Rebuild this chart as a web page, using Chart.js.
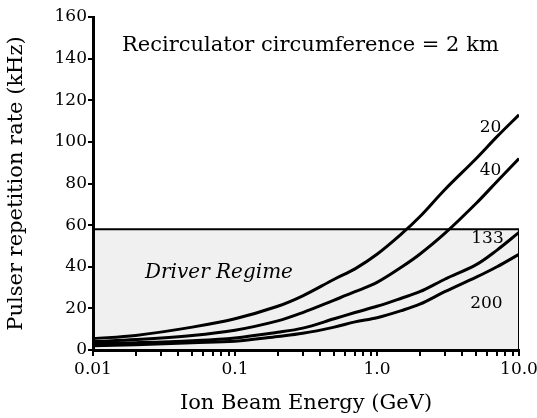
<!DOCTYPE html>
<html>
<head>
<meta charset="utf-8">
<script src="https://cdn.jsdelivr.net/npm/chart.js@4.4.1/dist/chart.umd.min.js"></script>
<style>
  html, body { margin: 0; padding: 0; background: #fff; }
  #wrap { width: 537px; height: 418px; }
</style>
</head>
<body>
<div id="wrap"><canvas id="c" width="537" height="418"></canvas></div>
<script>
const energia = [0.01, 0.02, 0.05, 0.1, 0.2, 0.3, 0.5, 0.7, 1, 1.5, 2, 3, 5, 7, 10];
// pulser repetition rate (kHz), one series per curve label
const curva20  = [5.5, 7, 11, 15, 21, 26, 34, 39, 46, 56, 64, 77, 92, 102.5, 113];
const curva40  = [4, 5, 7, 9.5, 14, 18, 24, 28, 32.5, 40, 46, 56, 70.5, 81, 92];
const curva133 = [3, 3.5, 4.5, 5.8, 8.5, 10.5, 15, 18, 21, 25, 28, 34, 41, 48, 56.5];
const curva200 = [2, 2.5, 3.5, 4.2, 6.5, 8, 11, 13.5, 15.5, 19, 22, 28, 35, 40, 46];
const rotulos = ['20', '40', '133', '200'];

// driver regime box
const regimeE = [0.01, 10];
const regimeTopo = 58;

// axis ticks
const xMaiores = [0.01, 0.1, 1, 10];
const xRotulos = ['0.01', '0.1', '1.0', '10.0'];
const yTicks = [0, 20, 40, 60, 80, 100, 120, 140, 160];

const serif = '"DejaVu Serif", "Liberation Serif", serif';

function pontos(ys) {
  return energia.map((e, i) => ({ x: e, y: ys[i] }));
}

const caixa = [
  { x: regimeE[0], y: regimeTopo },
  { x: regimeE[1], y: regimeTopo },
  { x: regimeE[1], y: 0 }
];

const linha = { borderColor: '#000', borderWidth: 3, pointRadius: 0, fill: false, tension: 0.35 };

// text drawn on the plot
const textos = {
  id: 'textos',
  afterDatasetsDraw(chart) {
    const ctx = chart.ctx;
    const x = chart.scales.x, y = chart.scales.y;
    ctx.save();
    ctx.fillStyle = '#000';
    ctx.textBaseline = 'middle';
    ctx.textAlign = 'left';
    ctx.font = '21px ' + serif;
    ctx.fillText('Recirculator circumference = 2 km', 122, 46);
    ctx.font = 'italic 20px ' + serif;
    ctx.fillText('Driver Regime', 145, 273);
    ctx.font = '17px ' + serif;
    ctx.textAlign = 'center';
    ctx.fillText(rotulos[0], x.getPixelForValue(6.3), y.getPixelForValue(107));
    ctx.fillText(rotulos[1], x.getPixelForValue(6.3), y.getPixelForValue(86));
    ctx.fillText(rotulos[2], x.getPixelForValue(6.0), y.getPixelForValue(53.5));
    ctx.fillText(rotulos[3], x.getPixelForValue(5.9), y.getPixelForValue(22.5));
    ctx.restore();
  }
};

new Chart(document.getElementById('c'), {
  type: 'line',
  data: {
    datasets: [
      { data: pontos(curva20), ...linha },
      { data: pontos(curva40), ...linha },
      { data: pontos(curva133), ...linha },
      { data: pontos(curva200), ...linha },
      {
        data: caixa, borderColor: '#000', borderWidth: 2, pointRadius: 0,
        fill: 'origin', backgroundColor: 'rgba(0,0,0,0.06)', tension: 0, order: 5
      }
    ]
  },
  options: {
    responsive: false,
    animation: false,
    layout: { padding: { top: 17, right: 0, left: 4, bottom: 2 } },
    plugins: { legend: { display: false }, tooltip: { enabled: false } },
    scales: {
      x: {
        type: 'logarithmic',
        min: 0.01, max: 10,
        afterBuildTicks(scale) {
          const t = [];
          xMaiores.forEach((m, i) => {
            if (i < xMaiores.length - 1) {
              for (let k = 1; k < 10; k++) t.push({ value: m * k });
            } else t.push({ value: m });
          });
          scale.ticks = t;
        },
        afterFit(scale) { scale.height = 66; scale.paddingRight = 18; },
        border: { color: '#000', width: 3 },
        grid: { drawOnChartArea: false, color: '#000', tickLength: 6, lineWidth: 2 },
        ticks: {
          color: '#000', autoSkip: false, maxRotation: 0, padding: 3,
          font: { family: serif, size: 17 },
          callback(v) {
            const i = xMaiores.findIndex(m => Math.abs(m - v) < m * 1e-6);
            return i >= 0 ? xRotulos[i] : '';
          }
        },
        title: {
          display: true, text: 'Ion Beam Energy (GeV)', color: '#000',
          font: { family: serif, size: 21 }, padding: { top: 0, bottom: 0 }
        }
      },
      y: {
        min: 0, max: 160,
        afterBuildTicks(scale) { scale.ticks = yTicks.map(v => ({ value: v })); },
        afterFit(scale) { scale.width = 89; },
        border: { color: '#000', width: 3 },
        grid: { drawOnChartArea: false, color: '#000', tickLength: 5, lineWidth: 2 },
        ticks: { color: '#000', padding: 1, font: { family: serif, size: 17 } },
        title: {
          display: true, text: 'Pulser repetition rate (kHz)', color: '#000',
          font: { family: serif, size: 21 }, padding: { top: 0, bottom: 2 }
        }
      }
    }
  },
  plugins: [textos]
});
</script>
</body>
</html>
